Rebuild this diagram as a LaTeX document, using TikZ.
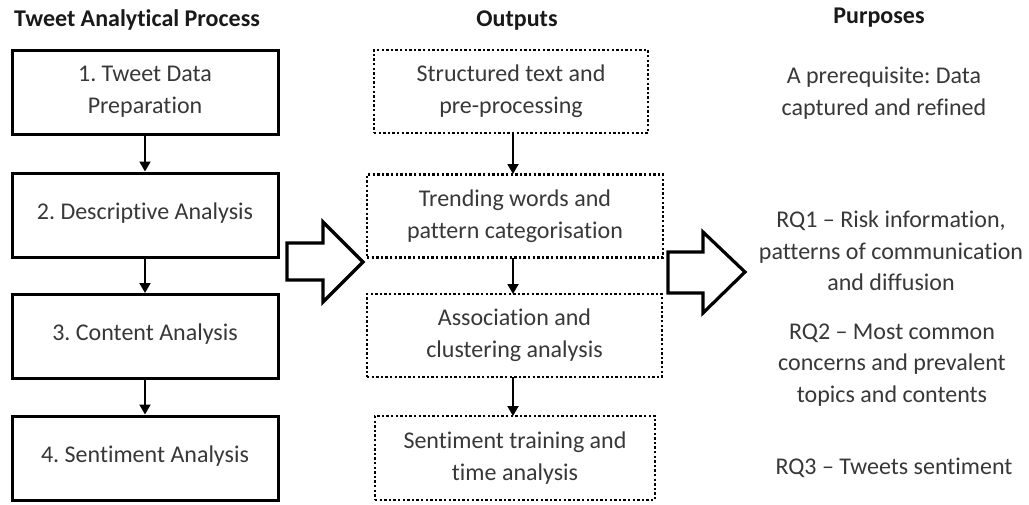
\documentclass[tikz,border=0pt]{standalone}
\usepackage{fontspec}
\setmainfont{Carlito}[Ligatures=NoCommon]
\usetikzlibrary{arrows.meta}
\definecolor{txt}{HTML}{383838}
\frenchspacing
\tikzset{
  x=0.5pt, y=-0.5pt,
  every node/.style={font=\fontsize{12pt}{16pt}\selectfont, text=txt, inner sep=0pt, align=center},
  procbox/.style={draw=black, line width=1.5pt, minimum width=133pt, minimum height=42pt},
  outbox/.style={draw=black, line width=1.4pt, dash pattern=on 1.2pt off 1.1pt, minimum height=41.5pt},
  title/.style={font=\fontsize{12pt}{16pt}\selectfont\bfseries, text=black!90},
  purp/.style={font=\fontsize{12pt}{15.8pt}\selectfont},
  flow/.style={line width=1pt, -{Triangle[width=5.5pt,length=5pt]}},
  bigarrow/.style={draw=black, line width=1.6pt, fill=white, line join=miter}
}
\begin{document}
\begin{tikzpicture}
\useasboundingbox (0,0) rectangle (1029,504);
\fill[white] (0,0) rectangle (1029,504);

% titles
\node[title] (t1) at (137,20) {Tweet Analytical Process};
\node[title] (t2) at (517,21) {Outputs};
\node[title] (t3) at (879,18) {Purposes};

% left column
\node[procbox] (p1) at (145,92) {1. Tweet Data\\Preparation};
\node[procbox] (p2) at (145,215) {\raisebox{4pt}{2. Descriptive Analysis}};
\node[procbox] (p3) at (145,336.5) {\raisebox{4pt}{3. Content Analysis}};
\node[procbox] (p4) at (145,458) {\raisebox{4pt}{4. Sentiment Analysis}};

\draw[flow] (p1) -- (p2);
\draw[flow] (p2) -- (p3);
\draw[flow] (p3) -- (p4);

% middle column
\node[outbox, minimum width=137pt] (o1) at (511,91.5) {Structured text and\\pre-processing};
\node[outbox, minimum width=148pt] (o2) at (515,216) {Trending words and\\pattern categorisation};
\node[outbox, minimum width=147.5pt] (o3) at (514.5,335.5) {Association and\\clustering analysis};
\node[outbox, minimum width=140pt, minimum height=42pt] (o4) at (515,458) {Sentiment training and\\time analysis};

\coordinate (a1s) at (513,133);
\coordinate (a1e) at (513,174);
\coordinate (a2s) at (513,258);
\coordinate (a2e) at (513,294);
\coordinate (a3s) at (513,377);
\coordinate (a3e) at (513,416);
\draw[flow] (a1s) -- (a1e);
\draw[flow] (a2s) -- (a2e);
\draw[flow] (a3s) -- (a3e);

% big hollow arrows
\draw[bigarrow] (287,243) -- (323,243) -- (323,222) -- (363,262) -- (323,302) -- (323,280) -- (287,280) -- cycle;
\draw[bigarrow] (668,252) -- (703,252) -- (703,232) -- (745,272) -- (703,313) -- (703,293) -- (668,293) -- cycle;

% purposes
\node[purp] (r0) at (884,93) {A prerequisite: Data\\captured and refined};
\node[purp] (r1) at (891,251) {RQ1 -- Risk information,\\patterns of communication\\and diffusion};
\node[purp] (r2) at (892,365) {RQ2 -- Most common\\concerns and prevalent\\topics and contents};
\node[purp] (r3) at (894,468) {RQ3 -- Tweets sentiment};
\end{tikzpicture}
\end{document}
